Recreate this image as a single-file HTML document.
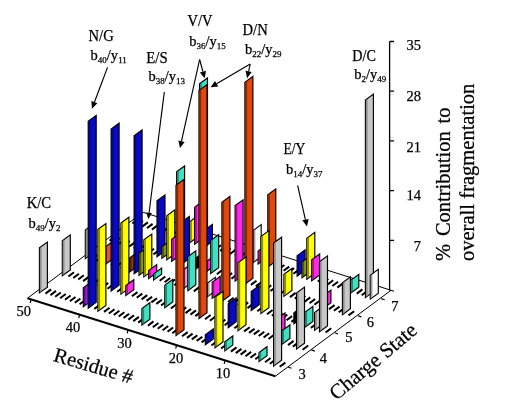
<!DOCTYPE html>
<html><head><meta charset="utf-8"><style>
html,body{margin:0;padding:0;background:#fff;}
body{width:506px;height:410px;overflow:hidden;position:relative;font-family:"Liberation Serif",serif;color:#000;}
svg{position:absolute;left:0;top:0;will-change:transform;opacity:0.999;}
text{font-family:"Liberation Serif",serif;fill:#000;stroke:#000;stroke-width:0.25px;}
</style></head><body>
<svg width="506" height="410" viewBox="0 0 506 410">
<path d="M27.5 298.2L143.1 212.3M275.4 376.2L391 290.3M143.1 212.3L394 291.2" stroke="#000" stroke-width="1" fill="none"/>
<path d="M361.7 295.2L367.3 291M356.8 293.6L362.4 289.4M347.1 290.6L352.7 286.4M342.2 289.1L347.8 284.9M337.3 287.6L342.9 283.4M332.4 286L338 281.8M327.6 284.5L333.2 280.3M322.7 283L328.3 278.8M317.8 281.5L323.4 277.2M293.4 273.8L299 269.6M288.5 272.3L294.1 268.1M283.6 270.8L289.2 266.6M278.8 269.2L284.4 265M273.9 267.7L279.5 263.5M264.1 264.7L269.7 260.5M249.5 260.1L255.1 255.9M244.6 258.6L250.2 254.4M239.7 257.1L245.3 252.9M234.9 255.5L240.5 251.3M230 254L235.6 249.8M225.1 252.5L230.7 248.3M220.2 250.9L225.8 246.8M215.3 249.4L220.9 245.2M210.5 247.9L216.1 243.7M186.1 240.3L191.7 236.1M181.2 238.8L186.8 234.6M176.3 237.2L181.9 233M171.4 235.7L177 231.5M166.6 234.2L172.2 230M161.7 232.6L167.3 228.4M156.8 231.1L162.4 226.9M151.9 229.6L157.5 225.4M147 228.1L152.6 223.9M142.2 226.6L147.8 222.4M137.3 225L142.9 220.8M132.4 223.5L138 219.3" stroke="#000" stroke-width="2" fill="none"/>
<path d="M189.7 242.7 197.7 236.8 197.7 215.8 189.7 221.7Z" fill="#ffff00" stroke="#000" stroke-width="1.15" stroke-linejoin="miter"/>
<path d="M190.2 241.8v-19.9l1.7 -1.3v19.9z" fill="#8c8c00"/>
<path d="M194.6 244.2 202.6 238.3 202.6 201.3 194.6 207.2Z" fill="#ff28e8" stroke="#000" stroke-width="1.15" stroke-linejoin="miter"/>
<path d="M195.1 243.4v-35.9l1.7 -1.3v35.9z" fill="#a01490"/>
<path d="M199.5 245.7 207.5 239.8 207.5 78 199.5 83.9Z" fill="#40e0c0" stroke="#000" stroke-width="1.15" stroke-linejoin="miter"/>
<path d="M200 244.9v-160.7l1.7 -1.3v160.7z" fill="#208a76"/>
<path d="M204.4 247.2 212.4 241.3 212.4 224.3 204.4 230.2Z" fill="#0a0ac4" stroke="#000" stroke-width="1.15" stroke-linejoin="miter"/>
<path d="M204.9 246.4v-15.9l1.7 -1.3v15.9z" fill="#060680"/>
<path d="M253.2 262.5 261.2 256.6 261.2 224.6 253.2 230.5Z" fill="#ffffff" stroke="#000" stroke-width="1.15" stroke-linejoin="miter"/>
<path d="M253.7 261.7v-30.9l1.7 -1.3v30.9z" fill="#a0a0a0"/>
<path d="M258.1 264 266.1 258.1 266.1 245.1 258.1 251Z" fill="#ff28e8" stroke="#000" stroke-width="1.15" stroke-linejoin="miter"/>
<path d="M258.6 263.2v-11.9l1.7 -1.3v11.9z" fill="#a01490"/>
<path d="M267.8 267.1 275.8 261.2 275.8 188.8 267.8 194.7Z" fill="#e2480c" stroke="#000" stroke-width="1.15" stroke-linejoin="miter"/>
<path d="M268.3 266.2v-71.3l1.7 -1.3v71.3z" fill="#8a2a06"/>
<path d="M297.1 276.2 305.1 270.3 305.1 249.8 297.1 255.7Z" fill="#0a0ac4" stroke="#000" stroke-width="1.15" stroke-linejoin="miter"/>
<path d="M297.6 275.4v-19.4l1.7 -1.3v19.4z" fill="#060680"/>
<path d="M302 277.7 310 271.8 310 256.1 302 262Z" fill="#8a9a10" stroke="#000" stroke-width="1.15" stroke-linejoin="miter"/>
<path d="M302.5 276.9v-14.6l1.7 -1.3v14.6z" fill="#4c5608"/>
<path d="M306.8 279.2 314.8 273.3 314.8 232.3 306.8 238.2Z" fill="#ffff00" stroke="#000" stroke-width="1.15" stroke-linejoin="miter"/>
<path d="M307.3 278.4v-39.9l1.7 -1.3v39.9z" fill="#8c8c00"/>
<path d="M311.7 280.8 319.7 274.9 319.7 253.9 311.7 259.8Z" fill="#ff28e8" stroke="#000" stroke-width="1.15" stroke-linejoin="miter"/>
<path d="M312.2 280v-19.9l1.7 -1.3v19.9z" fill="#a01490"/>
<path d="M350.8 293 358.8 287.1 358.8 274.4 350.8 280.3Z" fill="#40e0c0" stroke="#000" stroke-width="1.15" stroke-linejoin="miter"/>
<path d="M351.3 292.2v-11.6l1.7 -1.3v11.6z" fill="#208a76"/>
<path d="M365.4 297.6 373.4 291.7 373.4 94.1 365.4 100Z" fill="#c8c8c8" stroke="#000" stroke-width="1.15" stroke-linejoin="miter"/>
<path d="M365.9 296.8v-196.5l1.7 -1.3v196.5z" fill="#8c8c8c"/>
<path d="M370.3 299.1 378.3 293.2 378.3 269.4 370.3 275.3Z" fill="#ffffff" stroke="#000" stroke-width="1.15" stroke-linejoin="miter"/>
<path d="M370.8 298.3v-22.7l1.7 -1.3v22.7z" fill="#a0a0a0"/>
<path d="M348.5 315.4L354.1 311.2M338.8 312.3L344.4 308.1M333.9 310.8L339.5 306.6M329 309.3L334.6 305.1M319.2 306.2L324.8 302M314.4 304.7L320 300.5M309.5 303.2L315.1 299M304.6 301.7L310.2 297.4M299.7 300.1L305.3 295.9M294.9 298.6L300.5 294.4M290 297.1L295.6 292.9M280.2 294L285.8 289.8M275.3 292.5L280.9 288.3M270.5 291L276.1 286.8M265.6 289.5L271.2 285.2M260.7 287.9L266.3 283.7M255.8 286.4L261.4 282.2M250.9 284.9L256.5 280.7M241.2 281.8L246.8 277.6M231.4 278.8L237 274.6M226.5 277.3L232.1 273.1M221.7 275.7L227.3 271.5M216.8 274.2L222.4 270M202.2 269.6L207.8 265.4M192.4 266.6L198 262.4M187.5 265.1L193.1 260.8M153.4 254.4L159 250.2M148.5 252.8L154.1 248.7M143.6 251.3L149.2 247.1M138.7 249.8L144.3 245.6M133.8 248.3L139.4 244.1M129 246.8L134.6 242.6M124.1 245.2L129.7 241M119.2 243.7L124.8 239.5M114.3 242.2L119.9 238M109.5 240.7L115 236.5" stroke="#000" stroke-width="2" fill="none"/>
<path d="M157 256.8 165 250.9 165 194.9 157 200.8Z" fill="#0a0ac4" stroke="#000" stroke-width="1.15" stroke-linejoin="miter"/>
<path d="M157.5 255.9v-54.9l1.7 -1.3v54.9z" fill="#060680"/>
<path d="M161.9 258.3 169.9 252.4 169.9 240.9 161.9 246.8Z" fill="#8a9a10" stroke="#000" stroke-width="1.15" stroke-linejoin="miter"/>
<path d="M162.4 257.5v-10.4l1.7 -1.3v10.4z" fill="#4c5608"/>
<path d="M166.8 259.8 174.8 253.9 174.8 209.9 166.8 215.8Z" fill="#ffff00" stroke="#000" stroke-width="1.15" stroke-linejoin="miter"/>
<path d="M167.3 259v-42.9l1.7 -1.3v42.9z" fill="#8c8c00"/>
<path d="M171.7 261.3 179.7 255.4 179.7 233.4 171.7 239.3Z" fill="#ff28e8" stroke="#000" stroke-width="1.15" stroke-linejoin="miter"/>
<path d="M172.2 260.5v-20.9l1.7 -1.3v20.9z" fill="#a01490"/>
<path d="M176.6 262.9 184.6 257 184.6 166 176.6 171.9Z" fill="#40e0c0" stroke="#000" stroke-width="1.15" stroke-linejoin="miter"/>
<path d="M177.1 262.1v-89.9l1.7 -1.3v89.9z" fill="#208a76"/>
<path d="M181.4 264.4 189.4 258.5 189.4 216.5 181.4 222.4Z" fill="#0a0ac4" stroke="#000" stroke-width="1.15" stroke-linejoin="miter"/>
<path d="M181.9 263.6v-40.9l1.7 -1.3v40.9z" fill="#060680"/>
<path d="M196.1 268.9 204.1 263.1 204.1 252.1 196.1 257.9Z" fill="#000" stroke="#000" stroke-width="1.15" stroke-linejoin="miter"/>
<path d="M196.6 268.1v-9.9l1.7 -1.3v9.9z" fill="#000"/>
<path d="M205.8 272 213.8 266.1 213.8 256.1 205.8 262Z" fill="#ff28e8" stroke="#000" stroke-width="1.15" stroke-linejoin="miter"/>
<path d="M206.3 271.2v-8.9l1.7 -1.3v8.9z" fill="#a01490"/>
<path d="M210.7 273.5 218.7 267.6 218.7 234.6 210.7 240.5Z" fill="#40e0c0" stroke="#000" stroke-width="1.15" stroke-linejoin="miter"/>
<path d="M211.2 272.7v-31.9l1.7 -1.3v31.9z" fill="#208a76"/>
<path d="M235.1 281.1 243.1 275.2 243.1 199.8 235.1 205.6Z" fill="#ff28e8" stroke="#000" stroke-width="1.15" stroke-linejoin="miter"/>
<path d="M235.6 280.3v-74.4l1.7 -1.3v74.4z" fill="#a01490"/>
<path d="M244.9 284.2 252.9 278.3 252.9 76.3 244.9 82.2Z" fill="#e2480c" stroke="#000" stroke-width="1.15" stroke-linejoin="miter"/>
<path d="M245.4 283.4v-200.9l1.7 -1.3v200.9z" fill="#8a2a06"/>
<path d="M283.9 296.4 291.9 290.5 291.9 268.5 283.9 274.4Z" fill="#ffff00" stroke="#000" stroke-width="1.15" stroke-linejoin="miter"/>
<path d="M284.4 295.6v-20.9l1.7 -1.3v20.9z" fill="#8c8c00"/>
<path d="M322.9 308.6 330.9 302.7 330.9 290.1 322.9 296Z" fill="#ff28e8" stroke="#000" stroke-width="1.15" stroke-linejoin="miter"/>
<path d="M323.4 307.8v-11.5l1.7 -1.3v11.5z" fill="#a01490"/>
<path d="M342.4 314.7 350.4 308.8 350.4 276.8 342.4 282.7Z" fill="#c8c8c8" stroke="#000" stroke-width="1.15" stroke-linejoin="miter"/>
<path d="M342.9 313.9v-30.9l1.7 -1.3v30.9z" fill="#8c8c8c"/>
<path d="M325.6 332.5L331.2 328.3M310.9 327.9L316.5 323.7M301.2 324.9L306.8 320.7M291.4 321.9L297 317.6M286.5 320.3L292.1 316.1M281.7 318.8L287.3 314.6M276.8 317.3L282.4 313.1M271.9 315.8L277.5 311.5M267 314.2L272.6 310M257.3 311.2L262.9 307M247.5 308.1L253.1 303.9M242.6 306.6L248.2 302.4M237.7 305.1L243.3 300.9M232.9 303.6L238.5 299.3M228 302L233.6 297.8M218.2 299L223.8 294.8M203.6 294.4L209.2 290.2M198.7 292.9L204.3 288.7M193.8 291.4L199.4 287.1M179.2 286.8L184.8 282.6M174.3 285.2L179.9 281M169.4 283.7L175 279.5M164.6 282.2L170.2 278M159.7 280.7L165.3 276.5M125.5 270L131.1 265.8M120.7 268.5L126.3 264.3M115.8 266.9L121.4 262.7M110.9 265.4L116.5 261.2M101.1 262.4L106.7 258.2M96.3 260.9L101.9 256.6M91.4 259.3L97 255.1" stroke="#000" stroke-width="2" fill="none"/>
<path d="M85.3 258.6 93.3 252.8 93.3 224.2 85.3 230Z" fill="#c8c8c8" stroke="#000" stroke-width="1.15" stroke-linejoin="miter"/>
<path d="M85.8 257.8v-27.5l1.7 -1.3v27.5z" fill="#8c8c8c"/>
<path d="M104.8 264.8 112.8 258.9 112.8 241.4 104.8 247.2Z" fill="#e05838" stroke="#000" stroke-width="1.15" stroke-linejoin="miter"/>
<path d="M105.3 263.9v-16.4l1.7 -1.3v16.4z" fill="#8a3420"/>
<path d="M129.2 272.4 137.2 266.5 137.2 252.5 129.2 258.4Z" fill="#8a3a10" stroke="#000" stroke-width="1.15" stroke-linejoin="miter"/>
<path d="M129.7 271.6v-12.9l1.7 -1.3v12.9z" fill="#4a1e08"/>
<path d="M134.1 273.9 142.1 268 142.1 130 134.1 135.9Z" fill="#0a0ac4" stroke="#000" stroke-width="1.15" stroke-linejoin="miter"/>
<path d="M134.6 273.1v-136.9l1.7 -1.3v136.9z" fill="#060680"/>
<path d="M139 275.4 147 269.5 147 247.5 139 253.4Z" fill="#8a9a10" stroke="#000" stroke-width="1.15" stroke-linejoin="miter"/>
<path d="M139.5 274.6v-20.9l1.7 -1.3v20.9z" fill="#4c5608"/>
<path d="M143.8 276.9 151.8 271.1 151.8 234.1 143.8 239.9Z" fill="#ffff00" stroke="#000" stroke-width="1.15" stroke-linejoin="miter"/>
<path d="M144.3 276.1v-35.9l1.7 -1.3v35.9z" fill="#8c8c00"/>
<path d="M148.7 278.5 156.7 272.6 156.7 264.6 148.7 270.5Z" fill="#ff28e8" stroke="#000" stroke-width="1.15" stroke-linejoin="miter"/>
<path d="M149.2 277.7v-6.9l1.7 -1.3v6.9z" fill="#a01490"/>
<path d="M153.6 280 161.6 274.1 161.6 268.1 153.6 274Z" fill="#40e0c0" stroke="#000" stroke-width="1.15" stroke-linejoin="miter"/>
<path d="M154.1 279.2v-4.9l1.7 -1.3v4.9z" fill="#208a76"/>
<path d="M182.9 289.1 190.9 283.2 190.9 264.2 182.9 270.1Z" fill="#f090e8" stroke="#000" stroke-width="1.15" stroke-linejoin="miter"/>
<path d="M183.4 288.3v-17.9l1.7 -1.3v17.9z" fill="#906088"/>
<path d="M187.8 290.7 195.8 284.8 195.8 250.8 187.8 256.7Z" fill="#40e0c0" stroke="#000" stroke-width="1.15" stroke-linejoin="miter"/>
<path d="M188.3 289.9v-32.9l1.7 -1.3v32.9z" fill="#208a76"/>
<path d="M207.3 296.8 215.3 290.9 215.3 277.4 207.3 283.3Z" fill="#ffffff" stroke="#000" stroke-width="1.15" stroke-linejoin="miter"/>
<path d="M207.8 296v-12.4l1.7 -1.3v12.4z" fill="#a0a0a0"/>
<path d="M212.2 298.3 220.2 292.4 220.2 276.4 212.2 282.3Z" fill="#ff28e8" stroke="#000" stroke-width="1.15" stroke-linejoin="miter"/>
<path d="M212.7 297.5v-14.9l1.7 -1.3v14.9z" fill="#a01490"/>
<path d="M221.9 301.3 229.9 295.4 229.9 196.4 221.9 202.3Z" fill="#e2480c" stroke="#000" stroke-width="1.15" stroke-linejoin="miter"/>
<path d="M222.4 300.5v-97.9l1.7 -1.3v97.9z" fill="#8a2a06"/>
<path d="M251.2 310.5 259.2 304.6 259.2 285.6 251.2 291.5Z" fill="#0a0ac4" stroke="#000" stroke-width="1.15" stroke-linejoin="miter"/>
<path d="M251.7 309.7v-17.9l1.7 -1.3v17.9z" fill="#060680"/>
<path d="M260.9 313.5 268.9 307.6 268.9 230.6 260.9 236.5Z" fill="#ffff00" stroke="#000" stroke-width="1.15" stroke-linejoin="miter"/>
<path d="M261.4 312.7v-75.9l1.7 -1.3v75.9z" fill="#8c8c00"/>
<path d="M293.9 323.8 301.9 317.9 301.9 306.9 293.9 312.8Z" fill="#000" stroke="#000" stroke-width="1.15" stroke-linejoin="miter"/>
<path d="M294.4 323v-9.9l1.7 -1.3v9.9z" fill="#000"/>
<path d="M304.9 327.3 312.9 321.4 312.9 306.4 304.9 312.3Z" fill="#40e0c0" stroke="#000" stroke-width="1.15" stroke-linejoin="miter"/>
<path d="M305.4 326.5v-13.9l1.7 -1.3v13.9z" fill="#208a76"/>
<path d="M314.6 330.3 322.6 324.4 322.6 306.7 314.6 312.6Z" fill="#c8c8c8" stroke="#000" stroke-width="1.15" stroke-linejoin="miter"/>
<path d="M315.1 329.5v-16.6l1.7 -1.3v16.6z" fill="#8c8c8c"/>
<path d="M319.5 331.8 327.5 325.9 327.5 255.9 319.5 261.8Z" fill="#c8c8c8" stroke="#000" stroke-width="1.15" stroke-linejoin="miter"/>
<path d="M320 331v-68.9l1.7 -1.3v68.9z" fill="#8c8c8c"/>
<path d="M302.6 349.7L308.2 345.5M292.9 346.6L298.5 342.4M288 345.1L293.6 340.9M273.3 340.5L278.9 336.3M268.5 339L274.1 334.8M263.6 337.5L269.2 333.3M258.7 336L264.3 331.8M253.8 334.4L259.4 330.2M249 332.9L254.6 328.7M244.1 331.4L249.7 327.2M234.3 328.3L239.9 324.1M224.6 325.3L230.2 321.1M219.7 323.8L225.3 319.6M214.8 322.2L220.4 318M209.9 320.7L215.5 316.5M205 319.2L210.6 315M195.3 316.1L200.9 311.9M190.4 314.6L196 310.4M185.5 313.1L191.1 308.9M180.6 311.6L186.2 307.4M175.8 310L181.4 305.8M170.9 308.5L176.5 304.3M161.1 305.5L166.7 301.2M156.3 303.9L161.9 299.7M151.4 302.4L157 298.2M146.5 300.9L152.1 296.7M141.6 299.4L147.2 295.1M136.7 297.8L142.3 293.6M131.9 296.3L137.5 292.1M117.2 291.7L122.8 287.5M107.5 288.7L113.1 284.5M102.6 287.2L108.2 282.9M97.7 285.6L103.3 281.4M92.8 284.1L98.4 279.9M87.9 282.6L93.5 278.4M83.1 281.1L88.7 276.9M78.2 279.5L83.8 275.3M73.3 278L78.9 273.8M68.4 276.5L74 272.3" stroke="#000" stroke-width="2" fill="none"/>
<path d="M62.3 275.8 70.3 269.9 70.3 234.9 62.3 240.8Z" fill="#c8c8c8" stroke="#000" stroke-width="1.15" stroke-linejoin="miter"/>
<path d="M62.8 275v-33.9l1.7 -1.3v33.9z" fill="#8c8c8c"/>
<path d="M111.1 291.1 119.1 285.2 119.1 123.2 111.1 129.1Z" fill="#0a0ac4" stroke="#000" stroke-width="1.15" stroke-linejoin="miter"/>
<path d="M111.6 290.2v-160.9l1.7 -1.3v160.9z" fill="#060680"/>
<path d="M120.9 294.1 128.9 288.2 128.9 217.2 120.9 223.1Z" fill="#ffff00" stroke="#000" stroke-width="1.15" stroke-linejoin="miter"/>
<path d="M121.4 293.3v-69.9l1.7 -1.3v69.9z" fill="#8c8c00"/>
<path d="M125.8 295.6 133.8 289.7 133.8 279.7 125.8 285.6Z" fill="#ff28e8" stroke="#000" stroke-width="1.15" stroke-linejoin="miter"/>
<path d="M126.3 294.8v-8.9l1.7 -1.3v8.9z" fill="#a01490"/>
<path d="M164.8 307.8 172.8 301.9 172.8 279.4 164.8 285.3Z" fill="#40e0c0" stroke="#000" stroke-width="1.15" stroke-linejoin="miter"/>
<path d="M165.3 307v-21.4l1.7 -1.3v21.4z" fill="#208a76"/>
<path d="M199 318.5 207 312.6 207 84.6 199 90.5Z" fill="#e2480c" stroke="#000" stroke-width="1.15" stroke-linejoin="miter"/>
<path d="M199.5 317.7v-226.9l1.7 -1.3v226.9z" fill="#8a2a06"/>
<path d="M228.2 327.7 236.2 321.8 236.2 297.8 228.2 303.7Z" fill="#0a0ac4" stroke="#000" stroke-width="1.15" stroke-linejoin="miter"/>
<path d="M228.7 326.9v-22.9l1.7 -1.3v22.9z" fill="#060680"/>
<path d="M238 330.7 246 324.8 246 256.8 238 262.7Z" fill="#ffff00" stroke="#000" stroke-width="1.15" stroke-linejoin="miter"/>
<path d="M238.5 329.9v-66.9l1.7 -1.3v66.9z" fill="#8c8c00"/>
<path d="M277 342.9 285 337 285 313 277 318.9Z" fill="#ff28e8" stroke="#000" stroke-width="1.15" stroke-linejoin="miter"/>
<path d="M277.5 342.1v-22.9l1.7 -1.3v22.9z" fill="#a01490"/>
<path d="M281.9 344.4 289.9 338.5 289.9 325 281.9 330.9Z" fill="#40e0c0" stroke="#000" stroke-width="1.15" stroke-linejoin="miter"/>
<path d="M282.4 343.6v-12.4l1.7 -1.3v12.4z" fill="#208a76"/>
<path d="M296.5 349 304.5 343.1 304.5 287.1 296.5 293Z" fill="#c8c8c8" stroke="#000" stroke-width="1.15" stroke-linejoin="miter"/>
<path d="M297 348.2v-54.9l1.7 -1.3v54.9z" fill="#8c8c8c"/>
<path d="M279.7 366.8L285.3 362.6M269.9 363.8L275.5 359.6M265 362.2L270.6 358M255.3 359.2L260.9 355M250.4 357.7L256 353.5M245.5 356.2L251.1 351.9M240.6 354.6L246.2 350.4M235.8 353.1L241.4 348.9M230.9 351.6L236.5 347.4M221.1 348.5L226.7 344.3M211.4 345.5L217 341.3M201.6 342.4L207.2 338.2M196.7 340.9L202.3 336.7M191.8 339.4L197.4 335.2M187 337.9L192.6 333.6M182.1 336.3L187.7 332.1M172.3 333.3L177.9 329.1M167.5 331.8L173.1 327.5M162.6 330.2L168.2 326M157.7 328.7L163.3 324.5M152.8 327.2L158.4 323M147.9 325.7L153.5 321.4M138.2 322.6L143.8 318.4M133.3 321.1L138.9 316.9M128.4 319.6L134 315.3M123.5 318L129.1 313.8M118.7 316.5L124.3 312.3M113.8 315L119.4 310.8M108.9 313.5L114.5 309.2M104 311.9L109.6 307.7M94.3 308.9L99.9 304.7M79.6 304.3L85.2 300.1M74.8 302.8L80.4 298.6M69.9 301.2L75.5 297M65 299.7L70.6 295.5M60.1 298.2L65.7 294M55.2 296.7L60.8 292.5M50.4 295.2L56 290.9M45.5 293.6L51.1 289.4" stroke="#000" stroke-width="2" fill="none"/>
<path d="M39.4 292.9 47.4 287.1 47.4 242.1 39.4 247.9Z" fill="#c8c8c8" stroke="#000" stroke-width="1.15" stroke-linejoin="miter"/>
<path d="M39.9 292.1v-43.9l1.7 -1.3v43.9z" fill="#8c8c8c"/>
<path d="M83.3 306.7 91.3 300.8 91.3 281.8 83.3 287.7Z" fill="#9a1ae6" stroke="#000" stroke-width="1.15" stroke-linejoin="miter"/>
<path d="M83.8 305.9v-17.9l1.7 -1.3v17.9z" fill="#5a0a90"/>
<path d="M88.2 308.2 96.2 302.3 96.2 115.3 88.2 121.2Z" fill="#0a0ac4" stroke="#000" stroke-width="1.15" stroke-linejoin="miter"/>
<path d="M88.7 307.4v-185.9l1.7 -1.3v185.9z" fill="#060680"/>
<path d="M97.9 311.2 105.9 305.4 105.9 223.6 97.9 229.4Z" fill="#ffff00" stroke="#000" stroke-width="1.15" stroke-linejoin="miter"/>
<path d="M98.4 310.4v-80.7l1.7 -1.3v80.7z" fill="#8c8c00"/>
<path d="M141.9 325 149.9 319.1 149.9 302.6 141.9 308.5Z" fill="#40e0c0" stroke="#000" stroke-width="1.15" stroke-linejoin="miter"/>
<path d="M142.4 324.2v-15.4l1.7 -1.3v15.4z" fill="#208a76"/>
<path d="M176 335.6 184 329.8 184 179.4 176 185.3Z" fill="#e2480c" stroke="#000" stroke-width="1.15" stroke-linejoin="miter"/>
<path d="M176.5 334.8v-149.2l1.7 -1.3v149.2z" fill="#8a2a06"/>
<path d="M205.3 344.8 213.3 338.9 213.3 328.9 205.3 334.8Z" fill="#0a0ac4" stroke="#000" stroke-width="1.15" stroke-linejoin="miter"/>
<path d="M205.8 344v-8.9l1.7 -1.3v8.9z" fill="#060680"/>
<path d="M215 347.8 223 341.9 223 291.4 215 297.3Z" fill="#ffff00" stroke="#000" stroke-width="1.15" stroke-linejoin="miter"/>
<path d="M215.5 347v-49.4l1.7 -1.3v49.4z" fill="#8c8c00"/>
<path d="M224.8 350.9 232.8 345 232.8 336 224.8 341.9Z" fill="#40e0c0" stroke="#000" stroke-width="1.15" stroke-linejoin="miter"/>
<path d="M225.3 350.1v-7.9l1.7 -1.3v7.9z" fill="#208a76"/>
<path d="M259 361.6 267 355.7 267 346.7 259 352.6Z" fill="#40e0c0" stroke="#000" stroke-width="1.15" stroke-linejoin="miter"/>
<path d="M259.5 360.8v-7.9l1.7 -1.3v7.9z" fill="#208a76"/>
<path d="M273.6 366.1 281.6 360.2 281.6 237.2 273.6 243.1Z" fill="#c8c8c8" stroke="#000" stroke-width="1.15" stroke-linejoin="miter"/>
<path d="M274.1 365.3v-121.9l1.7 -1.3v121.9z" fill="#8c8c8c"/>
<path d="M27.5 298.2L275.4 376.2" stroke="#000" stroke-width="2" fill="none"/>
<path d="M31 299.6l-0.8 3.2M79.5 314.9l-0.8 3.2M128 330.1l-0.8 3.2M176.5 345.4l-0.8 3.2M225 360.6l-0.8 3.2" stroke="#000" stroke-width="1.2" fill="none"/>
<path d="M288 367l3.5 1.2M311.3 349.9l3.5 1.2M334.6 332.8l3.5 1.2M357.9 315.7l3.5 1.2M381.2 298.6l3.5 1.2" stroke="#000" stroke-width="1.2" fill="none"/>
<path d="M389.6 290.5V41.5M389.6 41.5h4.5M389.6 91.2h4.5M389.6 140.9h4.5M389.6 190.6h4.5M389.6 240.3h4.5" stroke="#000" stroke-width="1.3" fill="none"/>
<text x="88.5" y="40.8" font-size="16" textLength="25.2" lengthAdjust="spacingAndGlyphs">N/G</text>
<text x="90.6" y="60.1" font-size="14.5"><tspan dy="0">b</tspan><tspan font-size="9" dy="3.1">40</tspan><tspan dy="-3.1">/y</tspan><tspan font-size="9" dy="3.1">11</tspan></text>
<text x="146.3" y="62.7" font-size="16" textLength="21.4" lengthAdjust="spacingAndGlyphs">E/S</text>
<text x="148.4" y="80.7" font-size="14.5"><tspan dy="0">b</tspan><tspan font-size="9" dy="3.1">38</tspan><tspan dy="-3.1">/y</tspan><tspan font-size="9" dy="3.1">13</tspan></text>
<text x="187.5" y="26.1" font-size="16" textLength="24.9" lengthAdjust="spacingAndGlyphs">V/V</text>
<text x="189.3" y="46.1" font-size="14.5"><tspan dy="0">b</tspan><tspan font-size="9" dy="3.1">36</tspan><tspan dy="-3.1">/y</tspan><tspan font-size="9" dy="3.1">15</tspan></text>
<text x="242.5" y="35.3" font-size="16" textLength="25.2" lengthAdjust="spacingAndGlyphs">D/N</text>
<text x="245" y="53.8" font-size="14.5"><tspan dy="0">b</tspan><tspan font-size="9" dy="3.1">22</tspan><tspan dy="-3.1">/y</tspan><tspan font-size="9" dy="3.1">29</tspan></text>
<text x="352.3" y="60.8" font-size="16" textLength="23.6" lengthAdjust="spacingAndGlyphs">D/C</text>
<text x="354.3" y="78.8" font-size="14.5"><tspan dy="0">b</tspan><tspan font-size="9" dy="3.1">2</tspan><tspan dy="-3.1">/y</tspan><tspan font-size="9" dy="3.1">49</tspan></text>
<text x="283.4" y="154.4" font-size="16" textLength="21.9" lengthAdjust="spacingAndGlyphs">E/Y</text>
<text x="286" y="173.7" font-size="14.5"><tspan dy="0">b</tspan><tspan font-size="9" dy="3.1">14</tspan><tspan dy="-3.1">/y</tspan><tspan font-size="9" dy="3.1">37</tspan></text>
<text x="26.7" y="208.3" font-size="16" textLength="24.4" lengthAdjust="spacingAndGlyphs">K/C</text>
<text x="28.5" y="227.6" font-size="14.5"><tspan dy="0">b</tspan><tspan font-size="9" dy="3.1">49</tspan><tspan dy="-3.1">/y</tspan><tspan font-size="9" dy="3.1">2</tspan></text>
<path d="M107.5 67.4L94.4 102.2" stroke="#000" stroke-width="1.15" fill="none"/><path d="M91.9 108.7L91.4 101L97.4 103.3Z" fill="#000"/>
<path d="M164.3 92L149.1 212.8" stroke="#000" stroke-width="1.15" fill="none"/><path d="M148.3 219.2L146.3 212.4L151.9 213.1Z" fill="#000"/>
<path d="M199.6 59.5L202.9 71.5" stroke="#000" stroke-width="1.15" fill="none"/><path d="M204.7 78.3L199.8 72.4L206 70.7Z" fill="#000"/>
<path d="M199.6 59.5L181.5 141.2" stroke="#000" stroke-width="1.15" fill="none"/><path d="M180 148L178.4 140.5L184.6 141.9Z" fill="#000"/>
<path d="M250.2 64.1L248.6 71.5" stroke="#000" stroke-width="1.15" fill="none"/><path d="M247.1 78.3L245.5 70.8L251.7 72.1Z" fill="#000"/>
<path d="M250.2 64.1L216.6 83.8" stroke="#000" stroke-width="1.15" fill="none"/><path d="M210.6 87.3L215 81L218.3 86.5Z" fill="#000"/>
<path d="M297.6 185.3L305.4 219.6" stroke="#000" stroke-width="1.15" fill="none"/><path d="M307 226.4L302.3 220.3L308.6 218.9Z" fill="#000"/>
<text x="23.65" y="315.7" font-size="14.5" text-anchor="middle">50</text>
<text x="73.1" y="331.9" font-size="14.5" text-anchor="middle">40</text>
<text x="124.4" y="347.8" font-size="14.5" text-anchor="middle">30</text>
<text x="175.9" y="363" font-size="14.5" text-anchor="middle">20</text>
<text x="222.9" y="378.4" font-size="14.5" text-anchor="middle">10</text>
<text x="302.2" y="378.5" font-size="14.5" text-anchor="middle">3</text>
<text x="323.3" y="363.3" font-size="14.5" text-anchor="middle">4</text>
<text x="348.9" y="341.7" font-size="14.5" text-anchor="middle">5</text>
<text x="370.3" y="326.5" font-size="14.5" text-anchor="middle">6</text>
<text x="394.9" y="311.3" font-size="14.5" text-anchor="middle">7</text>
<text x="421" y="50.2" font-size="14.5" text-anchor="end">35</text>
<text x="421" y="100.8" font-size="14.5" text-anchor="end">28</text>
<text x="421" y="152" font-size="14.5" text-anchor="end">21</text>
<text x="421" y="200" font-size="14.5" text-anchor="end">14</text>
<text x="421" y="251.2" font-size="14.5" text-anchor="end">7</text>
<text transform="translate(52.6 360.7) rotate(16.5)" font-size="20.5">Residue #</text>
<text transform="translate(336.5 401) rotate(-40)" font-size="20.9">Charge State</text>
<text transform="translate(450.3 261) rotate(-90)" font-size="20.5" word-spacing="2.7">% Contribution to</text>
<text transform="translate(474.4 261) rotate(-90)" font-size="20.5" word-spacing="0.3">overall fragmentation</text>
</svg>
</body></html>
